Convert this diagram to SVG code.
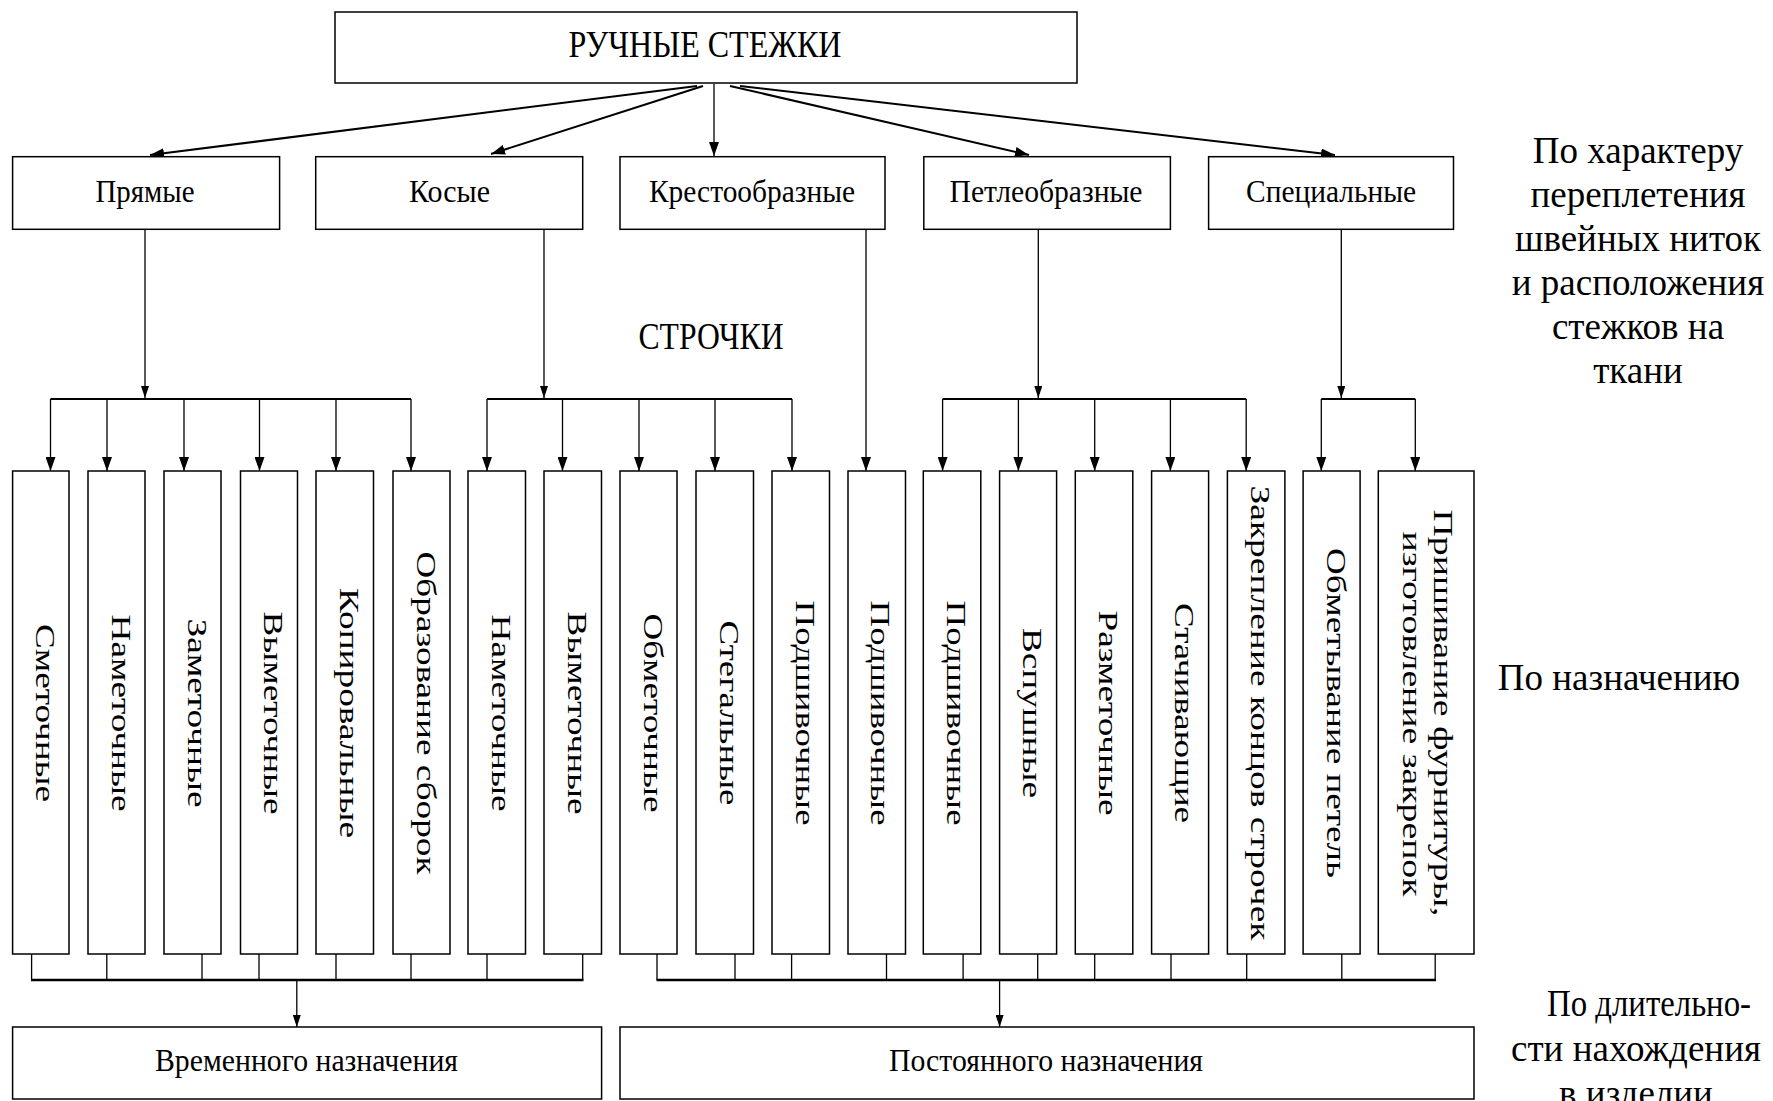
<svg xmlns="http://www.w3.org/2000/svg" width="1773" height="1101" viewBox="0 0 1773 1101">
<style>
.box{fill:#fff;stroke:#000;stroke-width:1.5}
.t{font-family:"Liberation Serif","Times New Roman",serif;fill:#000}
.h{font-size:32px;text-anchor:middle}
.big{font-size:37px;text-anchor:middle}
.v{font-size:27px;text-anchor:middle}
.side{font-size:37px;text-anchor:middle}
.bot{font-size:32px;text-anchor:middle}
.c{stroke:#000;stroke-width:1.3;fill:none}
.d{stroke:#000;stroke-width:2;fill:none}
.bus{stroke:#000;stroke-width:2;fill:none}
.bus2{stroke:#000;stroke-width:2.6;fill:none}
</style>
<defs>
<marker id="arr" markerUnits="userSpaceOnUse" markerWidth="14" markerHeight="10" refX="14" refY="5" orient="auto"><path d="M0,0 L14,5 L0,10 z" fill="#000"/></marker>
<marker id="arrs" markerUnits="userSpaceOnUse" markerWidth="12" markerHeight="8" refX="12" refY="4" orient="auto"><path d="M0,0 L12,4 L0,8 z" fill="#000"/></marker>
</defs>
<rect width="1773" height="1101" fill="#fff"/>

<g id="connectors">
<path class="d" d="M697,86 L150,155" marker-end="url(#arr)"/>
<path class="d" d="M703,86 L491,154" marker-end="url(#arr)"/>
<path class="c" d="M714,84 L714,156" marker-end="url(#arr)"/>
<path class="d" d="M730,86 L1029,155" marker-end="url(#arr)"/>
<path class="d" d="M740,86 L1335,155" marker-end="url(#arr)"/>

<path class="c" d="M145,230 L145,398" marker-end="url(#arrs)"/>
<path class="c" d="M544,230 L544,398" marker-end="url(#arrs)"/>
<path class="c" d="M866,230 L866,471" marker-end="url(#arr)"/>
<path class="c" d="M1038.3,230 L1038.3,398" marker-end="url(#arrs)"/>
<path class="c" d="M1341.3,230 L1341.3,398" marker-end="url(#arrs)"/>

<path class="bus" d="M50.5,399 H411 M487,399 H792 M942.6,399 H1246.2 M1321.3,399 H1415.3"/>
<g marker-end="url(#arr)">
<path class="c" d="M50.5,399 V471"/>
<path class="c" d="M107,399 V471"/>
<path class="c" d="M184,399 V471"/>
<path class="c" d="M259.5,399 V471"/>
<path class="c" d="M336,399 V471"/>
<path class="c" d="M411,399 V471"/>
<path class="c" d="M487,399 V471"/>
<path class="c" d="M562.5,399 V471"/>
<path class="c" d="M639,399 V471"/>
<path class="c" d="M715,399 V471"/>
<path class="c" d="M792,399 V471"/>
<path class="c" d="M942.6,399 V471"/>
<path class="c" d="M1018.4,399 V471"/>
<path class="c" d="M1094.7,399 V471"/>
<path class="c" d="M1170.4,399 V471"/>
<path class="c" d="M1246.2,399 V471"/>
<path class="c" d="M1321.3,399 V471"/>
<path class="c" d="M1415.3,399 V471"/>
</g>

<path class="c" d="M31.6,954 V980 M106.8,954 V980 M202,954 V980 M259,954 V980 M336,954 V980 M411,954 V980 M487,954 V980 M582.7,954 V980"/>
<path class="bus2" d="M31,980 H583.5"/>
<path class="c" d="M296.8,980 V1027" marker-end="url(#arrs)"/>
<path class="c" d="M657,954 V980 M735,954 V980 M791.6,954 V980 M886.5,954 V980 M963.1,954 V980 M1037.7,954 V980 M1094.7,954 V980 M1171,954 V980 M1246.7,954 V980 M1341.8,954 V980 M1435.2,954 V980"/>
<path class="bus2" d="M656.5,980 H1436"/>
<path class="c" d="M999.6,980 V1027" marker-end="url(#arrs)"/>
</g>

<g id="n-root"><rect class="box" x="335" y="12" width="742" height="71"/><text class="t big" x="705" y="57" textLength="273" lengthAdjust="spacingAndGlyphs">РУЧНЫЕ СТЕЖКИ</text></g>

<g id="n-pryamye"><rect class="box" x="12.6" y="156.7" width="267" height="72.6"/><text class="t h" x="145" y="202" textLength="99" lengthAdjust="spacingAndGlyphs">Прямые</text></g>
<g id="n-kosye"><rect class="box" x="315.7" y="156.7" width="267" height="72.6"/><text class="t h" x="449.5" y="202" textLength="81" lengthAdjust="spacingAndGlyphs">Косые</text></g>
<g id="n-krest"><rect class="box" x="620" y="156.7" width="265" height="72.6"/><text class="t h" x="752" y="202" textLength="206" lengthAdjust="spacingAndGlyphs">Крестообразные</text></g>
<g id="n-petl"><rect class="box" x="923.8" y="156.7" width="246.6" height="72.6"/><text class="t h" x="1046" y="202" textLength="193" lengthAdjust="spacingAndGlyphs">Петлеобразные</text></g>
<g id="n-spec"><rect class="box" x="1208.6" y="156.7" width="244.9" height="72.6"/><text class="t h" x="1331" y="202" textLength="170" lengthAdjust="spacingAndGlyphs">Специальные</text></g>

<g id="lbl-strochki"><text class="t big" x="711" y="349" textLength="145" lengthAdjust="spacingAndGlyphs">СТРОЧКИ</text></g>

<g id="n-s1"><rect class="box" x="12.6" y="471" width="56.4" height="483"/><text class="t v" transform="translate(36,713) rotate(90)" textLength="178" lengthAdjust="spacingAndGlyphs">Сметочные</text></g>
<g id="n-s2"><rect class="box" x="88" y="471" width="57" height="483"/><text class="t v" transform="translate(111.5,713) rotate(90)" textLength="197" lengthAdjust="spacingAndGlyphs">Наметочные</text></g>
<g id="n-s3"><rect class="box" x="164" y="471" width="57" height="483"/><text class="t v" transform="translate(187.5,713) rotate(90)" textLength="189" lengthAdjust="spacingAndGlyphs">Заметочные</text></g>
<g id="n-s4"><rect class="box" x="240.5" y="471" width="57" height="483"/><text class="t v" transform="translate(264,713) rotate(90)" textLength="203" lengthAdjust="spacingAndGlyphs">Выметочные</text></g>
<g id="n-s5"><rect class="box" x="316" y="471" width="57.5" height="483"/><text class="t v" transform="translate(339.5,713) rotate(90)" textLength="250" lengthAdjust="spacingAndGlyphs">Копировальные</text></g>
<g id="n-s6"><rect class="box" x="393" y="471" width="57" height="483"/><text class="t v" transform="translate(416.5,713) rotate(90)" textLength="323" lengthAdjust="spacingAndGlyphs">Образование сборок</text></g>
<g id="n-s7"><rect class="box" x="468" y="471" width="57.5" height="483"/><text class="t v" transform="translate(491.5,713) rotate(90)" textLength="197" lengthAdjust="spacingAndGlyphs">Наметочные</text></g>
<g id="n-s8"><rect class="box" x="544" y="471" width="57.5" height="483"/><text class="t v" transform="translate(567.5,713) rotate(90)" textLength="203" lengthAdjust="spacingAndGlyphs">Выметочные</text></g>
<g id="n-s9"><rect class="box" x="620" y="471" width="57" height="483"/><text class="t v" transform="translate(643.5,713) rotate(90)" textLength="199" lengthAdjust="spacingAndGlyphs">Обметочные</text></g>
<g id="n-s10"><rect class="box" x="696" y="471" width="57.5" height="483"/><text class="t v" transform="translate(719.5,713) rotate(90)" textLength="185" lengthAdjust="spacingAndGlyphs">Стегальные</text></g>
<g id="n-s11"><rect class="box" x="772" y="471" width="57.5" height="483"/><text class="t v" transform="translate(795.5,713) rotate(90)" textLength="225" lengthAdjust="spacingAndGlyphs">Подшивочные</text></g>
<g id="n-s12"><rect class="box" x="848" y="471" width="57.5" height="483"/><text class="t v" transform="translate(871,713) rotate(90)" textLength="225" lengthAdjust="spacingAndGlyphs">Подшивочные</text></g>
<g id="n-s13"><rect class="box" x="923.3" y="471" width="57.5" height="483"/><text class="t v" transform="translate(946.8,713) rotate(90)" textLength="225" lengthAdjust="spacingAndGlyphs">Подшивочные</text></g>
<g id="n-s14"><rect class="box" x="999.6" y="471" width="57" height="483"/><text class="t v" transform="translate(1022.5,713) rotate(90)" textLength="170" lengthAdjust="spacingAndGlyphs">Вспушные</text></g>
<g id="n-s15"><rect class="box" x="1075.3" y="471" width="57.5" height="483"/><text class="t v" transform="translate(1098.8,713) rotate(90)" textLength="205" lengthAdjust="spacingAndGlyphs">Разметочные</text></g>
<g id="n-s16"><rect class="box" x="1151.6" y="471" width="57" height="483"/><text class="t v" transform="translate(1175,713) rotate(90)" textLength="220" lengthAdjust="spacingAndGlyphs">Стачивающие</text></g>
<g id="n-s17"><rect class="box" x="1227.4" y="471" width="57.5" height="483"/><text class="t v" transform="translate(1250.9,713) rotate(90)" textLength="455" lengthAdjust="spacingAndGlyphs">Закрепление концов строчек</text></g>
<g id="n-s18"><rect class="box" x="1303.1" y="471" width="57" height="483"/><text class="t v" transform="translate(1326.6,713) rotate(90)" textLength="330" lengthAdjust="spacingAndGlyphs">Обметывание петель</text></g>
<g id="n-s19"><rect class="box" x="1378.3" y="471" width="95.7" height="483"/><text class="t v" transform="translate(1434,713) rotate(90)" textLength="407" lengthAdjust="spacingAndGlyphs">Пришивание фурнитуры,</text><text class="t v" transform="translate(1403,714) rotate(90)" textLength="365" lengthAdjust="spacingAndGlyphs">изготовление закрепок</text></g>

<g id="n-vrem"><rect class="box" x="12.6" y="1027" width="589" height="72"/><text class="t bot" x="306.5" y="1071" textLength="303" lengthAdjust="spacingAndGlyphs">Временного назначения</text></g>
<g id="n-post"><rect class="box" x="620" y="1027" width="854" height="72"/><text class="t bot" x="1046" y="1071" textLength="314" lengthAdjust="spacingAndGlyphs">Постоянного назначения</text></g>

<g id="lbl-side1" class="t side">
<text x="1638" y="163">По характеру</text>
<text x="1638" y="207">переплетения</text>
<text x="1638" y="251">швейных ниток</text>
<text x="1638" y="295">и расположения</text>
<text x="1638" y="339">стежков на</text>
<text x="1638" y="383">ткани</text>
</g>
<g id="lbl-side2" class="t side"><text x="1619" y="690">По назначению</text></g>
<g id="lbl-side3" class="t side">
<text x="1649" y="1016" textLength="204" lengthAdjust="spacingAndGlyphs">По длительно-</text>
<text x="1636" y="1061">сти нахождения</text>
<text x="1636" y="1106">в изделии</text>
</g>
</svg>
